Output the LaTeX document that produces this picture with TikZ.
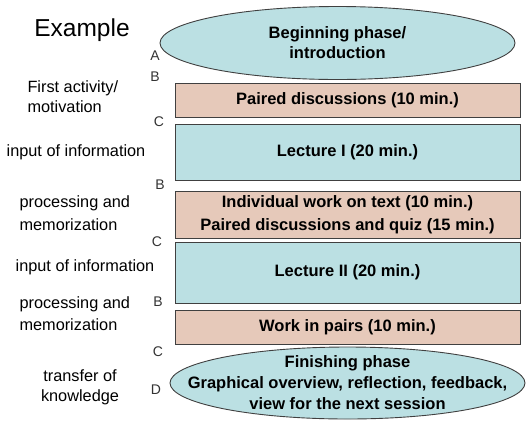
\documentclass[tikz,border=0pt]{standalone}
\usepackage{fontspec}
\setmainfont{Liberation Sans}
\usetikzlibrary{shapes.geometric}
\definecolor{lblue}{HTML}{BBE0E3}
\definecolor{lpink}{HTML}{E6C9BA}
\definecolor{edge}{HTML}{404040}
\begin{document}
\begin{tikzpicture}[x=1pt,y=-1pt,
  box/.style={draw=edge,line width=0.9pt,fill=lpink},
  bbox/.style={box,fill=lblue},
  btxt/.style={font=\fontsize{16.5}{20}\selectfont\bfseries,align=center},
  oval/.style={ellipse,draw=edge,line width=0.9pt,fill=lblue,inner sep=0pt},
  lab/.style={font=\fontsize{16.3}{20}\selectfont,align=left},
  let/.style={font=\fontsize{14}{16}\selectfont,text=black!80}]
\useasboundingbox (0,0) rectangle (530,424);
\fill[white] (0,0) rectangle (530,424);
% shapes
\node[oval,minimum width=355,minimum height=73] (e1) at (337.5,43) {};
\node[btxt] (t1) at (e1.center) {Beginning phase/\\introduction};
\draw[box] (175,83) rectangle (520,117);
\node[btxt] (b1) at (347.5,100) {Paired discussions (10 min.)};
\draw[bbox] (175,124) rectangle (520,180);
\node[btxt] (b2) at (347.5,152) {Lecture I (20 min.)};
\draw[box] (175,191) rectangle (520,238);
\node[btxt,font=\fontsize{16.5}{23}\selectfont\bfseries] (b3) at (347.5,214.5) {Individual work on text (10 min.)\\Paired discussions and quiz (15 min.)};
\draw[bbox] (175,242) rectangle (520,303);
\node[btxt] (b4) at (347.5,272.5) {Lecture II (20 min.)};
\draw[box] (175,310) rectangle (520,344);
\node[btxt] (b5) at (347.5,327) {Work in pairs (10 min.)};
\node[oval,minimum width=355,minimum height=72] (e2) at (347.5,383) {};
\node[btxt,font=\fontsize{16.5}{21}\selectfont\bfseries] (t2) at (e2.center) {Finishing phase\\Graphical overview, reflection, feedback,\\view for the next session};
% left labels
\node[font=\fontsize{24.5}{28}\selectfont] (ex) at (82,30) {Example};
\node[lab,anchor=west] (l1) at (24,96.5) {First activity/\\motivation};
\node[lab] (l2) at (76,152) {input of information};
\node[lab,anchor=west,font=\fontsize{16.3}{23}\selectfont] (l3) at (16,213.5) {processing and\\memorization};
\node[lab] (l4) at (85,267) {input of information};
\node[lab,anchor=west,font=\fontsize{16.3}{22}\selectfont] (l5) at (16,314) {processing and\\memorization};
\node[lab,align=center] (l6) at (80,387) {transfer of\\knowledge};
% letters
\node[let] (A) at (155,56) {A};
\node[let] (B1) at (155,77) {B};
\node[let] (C1) at (159,122) {C};
\node[let] (B2) at (160,185) {B};
\node[let] (C2) at (157,242) {C};
\node[let] (B3) at (158,302) {B};
\node[let] (C3) at (158,352) {C};
\node[let] (D) at (156,390) {D};
\end{tikzpicture}
\end{document}
